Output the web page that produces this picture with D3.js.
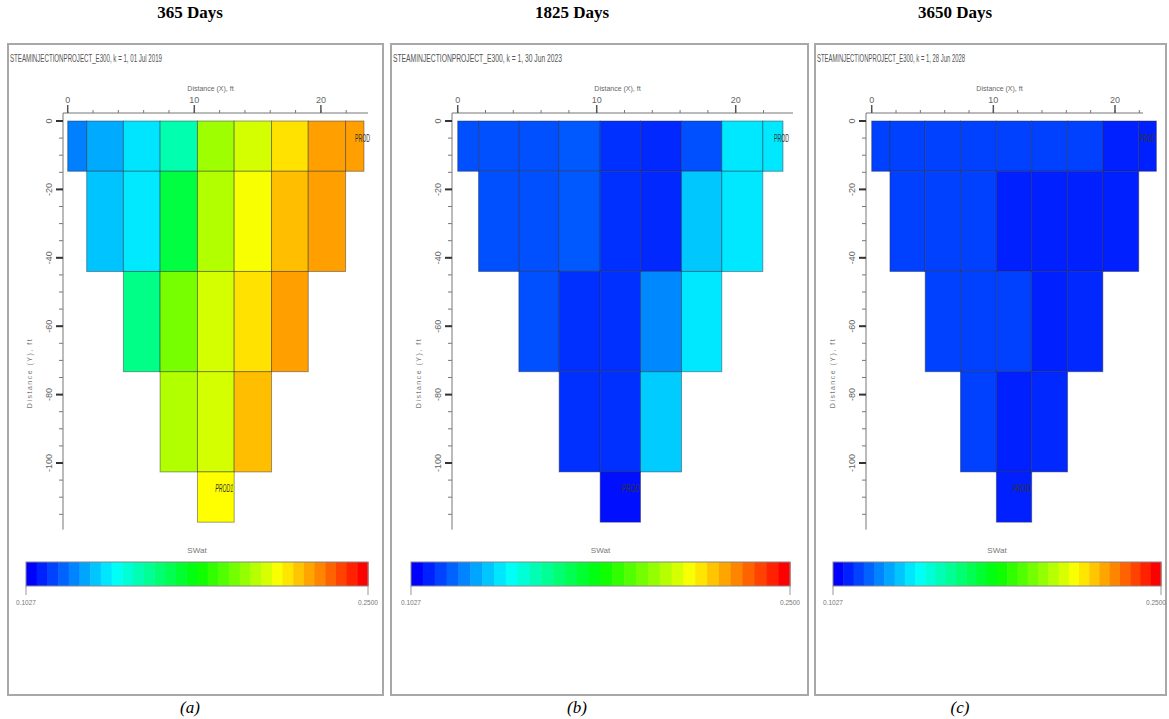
<!DOCTYPE html>
<html><head><meta charset="utf-8">
<script src="https://cdn.jsdelivr.net/npm/d3@7"></script>
<style>body{margin:0;background:#fff;}svg{display:block;}</style>
</head><body>
<svg id="chart" width="1169" height="719"></svg>
<script>
// ---- data ----
const headings = ["365 Days", "1825 Days", "3650 Days"];
const captions = ["(a)", "(b)", "(c)"];
const plotTitles = [
  "STEAMINJECTIONPROJECT_E300, k = 1, 01 Jul 2019",
  "STEAMINJECTIONPROJECT_E300, k = 1, 30 Jun 2023",
  "STEAMINJECTIONPROJECT_E300, k = 1, 28 Jun 2028"
];
const propName = "SWat";
const valueMin = 0.1027, valueMax = 0.2500;
const colorbarLabels = ["0.1027", "0.2500"];
const xEdges = [0, 1.5, 4.4, 7.3, 10.25, 13.15, 16.1, 19.0, 21.95, 23.4];
const yEdges = [0, -14.7, -44, -73.3, -102.6, -117.3];
const rowFirstCol = [0, 1, 2, 3, 4];
const xTicks = [0, 10, 20];
const yTicks = [0, -20, -40, -60, -80, -100];
const sw365 = [
  [0.1211, 0.1273, 0.1358, 0.1512, 0.1990, 0.2070, 0.2174, 0.2269, 0.2269],
  [0.1310, 0.1364, 0.1671, 0.2021, 0.2122, 0.2224, 0.2269],
  [0.1568, 0.1936, 0.2070, 0.2174, 0.2269],
  [0.2021, 0.2070, 0.2224],
  [0.2132]
];
const sw1825 = [
  [0.1142, 0.1142, 0.1142, 0.1154, 0.1096, 0.1085, 0.1142, 0.1362, 0.1362],
  [0.1142, 0.1142, 0.1154, 0.1096, 0.1085, 0.1316, 0.1362],
  [0.1142, 0.1096, 0.1096, 0.1223, 0.1362],
  [0.1096, 0.1096, 0.1322],
  [0.1050]
];
const sw3650 = [
  [0.1119, 0.1119, 0.1119, 0.1119, 0.1119, 0.1119, 0.1119, 0.1073, 0.1073],
  [0.1119, 0.1119, 0.1119, 0.1073, 0.1073, 0.1073, 0.1073],
  [0.1119, 0.1119, 0.1119, 0.1073, 0.1085],
  [0.1119, 0.1073, 0.1085],
  [0.1073]
];
const seriesVals = [sw365, sw1825, sw3650];
const wellTop = "PROD", wellBottom = "PROD1";

// ---- layout ----
const layout = [
  {frame:[8, 383], x0:67.7, x20:320.9, axL:63, axR:368, head:190, cap:190, cb:[26, 368], titleW:152},
  {frame:[391, 808], x0:457.7, x20:735.7, axL:452, axR:793, head:572, cap:577, cb:[411, 790], titleW:169},
  {frame:[815, 1166], x0:871.7, x20:1115, axL:866, axR:1143, head:955, cap:960, cb:[833, 1161], titleW:148}
];
const svg = d3.select("#chart");
const hue = d3.scaleLinear().domain([valueMin, valueMax]).range([240, 0]).clamp(true);
const color = v => d3.hsl(hue(v), 1, 0.5).formatHex();
const y = d3.scaleLinear().domain([0, -100]).range([121, 463]);
const nSeg = 32;

layout.forEach((L, i) => {
  const g = svg.append("g");
  svg.append("text").attr("x", L.head).attr("y", 18).attr("text-anchor", "middle")
    .attr("font-family", "Liberation Serif, serif").attr("font-weight", "bold").attr("font-size", 17)
    .text(headings[i]);
  svg.append("text").attr("x", L.cap).attr("y", 713).attr("text-anchor", "middle")
    .attr("font-family", "Liberation Serif, serif").attr("font-style", "italic").attr("font-size", 17)
    .text(captions[i]);
  g.append("rect").attr("x", L.frame[0]).attr("y", 44).attr("width", L.frame[1] - L.frame[0]).attr("height", 651)
    .attr("fill", "#fff").attr("stroke", "#a8a8a8").attr("stroke-width", 2);
  g.append("text").attr("x", L.frame[0] + 2).attr("y", 62)
    .attr("font-family", "Liberation Sans, sans-serif").attr("font-size", 10).attr("fill", "#555")
    .attr("textLength", L.titleW).attr("lengthAdjust", "spacingAndGlyphs").text(plotTitles[i]);

  const x = d3.scaleLinear().domain([0, 20]).range([L.x0, L.x20]);
  const vals = seriesVals[i];
  const cells = [];
  vals.forEach((row, r) => row.forEach((v, k) => {
    const c = rowFirstCol[r] + k;
    cells.push({x0: xEdges[c], x1: xEdges[c + 1], y0: yEdges[r], y1: yEdges[r + 1], v});
  }));
  g.selectAll("rect.cell").data(cells).enter().append("rect").attr("class", "cell")
    .attr("x", d => x(d.x0)).attr("y", d => y(d.y0))
    .attr("width", d => x(d.x1) - x(d.x0)).attr("height", d => y(d.y1) - y(d.y0))
    .attr("fill", d => color(d.v)).attr("stroke", "rgba(40,40,60,0.45)").attr("stroke-width", 1);
  // well labels
  const topEnd = Math.min(x(xEdges[9]) + 6, L.frame[1] - 11);
  g.append("text").attr("x", topEnd).attr("y", y(-6)).attr("text-anchor", "end")
    .attr("font-family", "Liberation Sans, sans-serif").attr("font-size", 10).attr("fill", "#333")
    .attr("textLength", 15).attr("lengthAdjust", "spacingAndGlyphs").text(wellTop);
  g.append("text").attr("x", x(xEdges[5]) - 1).attr("y", y(-108.5)).attr("text-anchor", "end")
    .attr("font-family", "Liberation Sans, sans-serif").attr("font-size", 10).attr("font-style", "italic").attr("fill", "#333")
    .attr("textLength", 18).attr("lengthAdjust", "spacingAndGlyphs").text(i === 0 ? wellBottom : wellTop);

  // x axis (top)
  const axY = 113;
  g.append("line").attr("x1", L.axL).attr("x2", L.axR).attr("y1", axY).attr("y2", axY).attr("stroke", "#777");
  const xMinor = d3.range(0, 24, 2).filter(t => x(t) <= L.axR);
  g.selectAll("line.xm").data(xMinor).enter().append("line")
    .attr("x1", d => x(d)).attr("x2", d => x(d)).attr("y1", axY).attr("y2", axY - 3).attr("stroke", "#777");
  g.selectAll("line.xM").data(xTicks).enter().append("line")
    .attr("x1", d => x(d)).attr("x2", d => x(d)).attr("y1", axY).attr("y2", axY - 8).attr("stroke", "#555").attr("stroke-width", 1.5);
  g.selectAll("text.xl").data(xTicks).enter().append("text")
    .attr("x", d => x(d)).attr("y", axY - 10).attr("text-anchor", "middle")
    .attr("font-family", "Liberation Sans, sans-serif").attr("font-size", 9).attr("fill", "#666").text(d => d);
  g.append("text").attr("x", (L.axL + L.axR) / 2 - 5).attr("y", 91).attr("text-anchor", "middle")
    .attr("font-family", "Liberation Sans, sans-serif").attr("font-size", 7).attr("fill", "#666").text("Distance (X), ft");

  // y axis (left)
  g.append("line").attr("x1", L.axL).attr("x2", L.axL).attr("y1", axY).attr("y2", y(-119.5)).attr("stroke", "#777");
  const yMinor = d3.range(0, -120, -5);
  g.selectAll("line.ym").data(yMinor).enter().append("line")
    .attr("x1", L.axL).attr("x2", L.axL - 4).attr("y1", d => y(d)).attr("y2", d => y(d)).attr("stroke", "#777");
  g.selectAll("line.yM").data(yTicks).enter().append("line")
    .attr("x1", L.axL).attr("x2", L.axL - 7).attr("y1", d => y(d)).attr("y2", d => y(d)).attr("stroke", "#333").attr("stroke-width", 2);
  g.selectAll("text.yl").data(yTicks).enter().append("text")
    .attr("transform", d => `translate(${L.axL - 11},${y(d)}) rotate(-90)`).attr("text-anchor", "middle")
    .attr("font-family", "Liberation Sans, sans-serif").attr("font-size", 9).attr("fill", "#666").text(d => d);
  g.append("text").attr("transform", `translate(${L.axL - 31},${373}) rotate(-90)`).attr("text-anchor", "middle")
    .attr("font-family", "Liberation Sans, sans-serif").attr("font-size", 7).attr("fill", "#777")
    .attr("letter-spacing", 1.5).text("Distance (Y), ft");

  // colorbar
  const cbx = d3.scaleBand().domain(d3.range(nSeg)).range(L.cb);
  const segVal = d3.scaleLinear().domain([0, nSeg - 1]).range([valueMin, valueMax]);
  g.selectAll("rect.cb").data(d3.range(nSeg)).enter().append("rect")
    .attr("x", d => cbx(d)).attr("y", 562).attr("width", cbx.bandwidth() + 0.5).attr("height", 24)
    .attr("fill", d => color(segVal(d)));
  g.append("rect").attr("x", L.cb[0]).attr("y", 562).attr("width", L.cb[1] - L.cb[0]).attr("height", 24)
    .attr("fill", "none").attr("stroke", "#888");
  [L.cb[0], L.cb[1]].forEach((px, j) => {
    g.append("line").attr("x1", px).attr("x2", px).attr("y1", 586).attr("y2", 595).attr("stroke", "#999");
    const tx = Math.min(px, 1169 - 13);
    g.append("text").attr("x", tx).attr("y", 605).attr("text-anchor", "middle")
      .attr("font-family", "Liberation Sans, sans-serif").attr("font-size", 8).attr("fill", "#777")
      .attr("textLength", 20).attr("lengthAdjust", "spacingAndGlyphs").text(colorbarLabels[j]);
  });
  g.append("text").attr("x", (L.cb[0] + L.cb[1]) / 2).attr("y", 553).attr("text-anchor", "middle")
    .attr("font-family", "Liberation Sans, sans-serif").attr("font-size", 8).attr("fill", "#777").text(propName);
});
</script>
</body></html>
